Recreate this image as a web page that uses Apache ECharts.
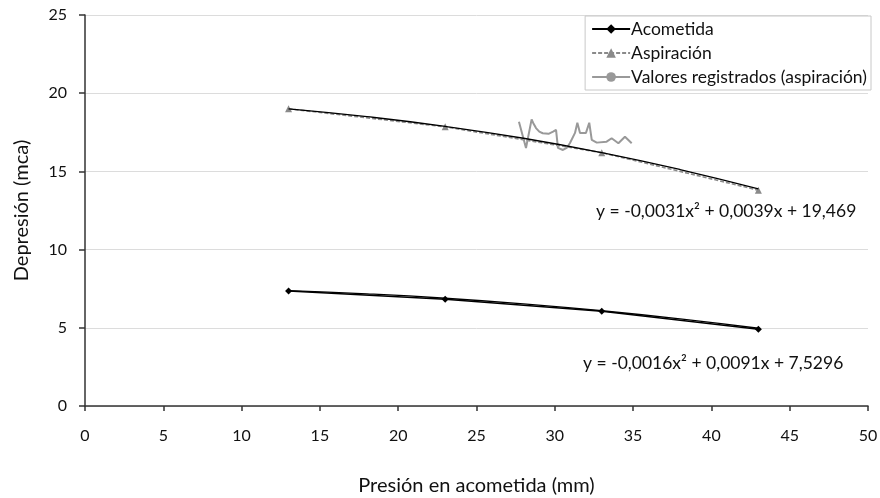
<!DOCTYPE html>
<html><head><meta charset="utf-8">
<script src="https://cdn.jsdelivr.net/npm/echarts@6/dist/echarts.min.js"></script>
<style>html,body{margin:0;padding:0;background:#fff}#c{width:880px;height:498px}</style>
</head><body><div id="c"></div>
<script>
const xPoints = [13, 23, 33, 43];
const acometida = [7.36, 6.83, 6.06, 4.90];
const aspiracion = [19.0, 17.85, 16.2, 13.8];
const regX = [27.71, 28.16, 28.52, 28.62, 28.80, 29.01, 29.23, 29.6, 29.89, 30.08, 30.20, 30.52, 30.76, 30.97, 31.29, 31.44, 31.61, 31.99, 32.20, 32.36, 32.68, 33.31, 33.63, 34.06, 34.48, 34.91];
const regY = [18.18, 16.50, 18.33, 18.1, 17.77, 17.54, 17.44, 17.4, 17.54, 17.65, 16.50, 16.37, 16.50, 16.82, 17.46, 18.11, 17.46, 17.46, 18.11, 17.01, 16.84, 16.90, 17.12, 16.80, 17.22, 16.80];
const trendX = [13, 18, 23, 28, 33, 38, 43];
const trendAsp = [19.0, 18.5, 17.88, 17.12, 16.2, 15.12, 13.88];
const trendAco = [7.38, 7.17, 6.89, 6.53, 6.09, 5.57, 4.97];
const eqAsp = 'y = -0,0031x² + 0,0039x + 19,469';
const eqAco = 'y = -0,0016x² + 0,0091x + 7,5296';
const xName = 'Presión en acometida (mm)';
const yName = 'Depresión (mca)';

const zip = (a, b) => a.map((v, i) => [v, b[i]]);
const FONT = 'Lato';
const chart = echarts.init(document.getElementById('c'), null, {renderer: 'canvas'});
chart.setOption({
  backgroundColor: '#fff',
  animation: false,
  textStyle: {fontFamily: FONT},
  grid: {left: 85, right: 12, top: 15, bottom: 92, containLabel: false, outerBoundsMode: 'none'},
  legend: {
    orient: 'vertical', right: 9, top: 16,
    data: ['Acometida', 'Aspiración', 'Valores registrados (aspiración)'],
    borderColor: '#c8c8c8', borderWidth: 1, backgroundColor: '#fff',
    padding: [4, 4, 4, 6], itemGap: 6, itemWidth: 38, itemHeight: 12,
    textStyle: {fontFamily: FONT, fontSize: 17.5, color: '#111', padding: [0, 0, 0, -4]}
  },
  xAxis: {
    type: 'value', min: 0, max: 50, interval: 5,
    name: xName, nameLocation: 'middle', nameGap: 70,
    nameTextStyle: {fontFamily: FONT, fontSize: 20, color: '#111'},
    axisLine: {show: true, lineStyle: {color: '#333', width: 1.5}},
    axisTick: {show: true, length: 5, lineStyle: {color: '#333', width: 1.5}},
    axisLabel: {fontFamily: FONT, fontSize: 16, color: '#111', margin: 22},
    splitLine: {show: false}
  },
  yAxis: {
    type: 'value', min: 0, max: 25, interval: 5,
    name: yName, nameLocation: 'middle', nameGap: 53, nameRotate: 90,
    nameTextStyle: {fontFamily: FONT, fontSize: 20, color: '#111'},
    axisLine: {show: true, onZero: false, lineStyle: {color: '#333', width: 1.5}},
    axisTick: {show: true, length: 6, lineStyle: {color: '#333', width: 1.5}},
    axisLabel: {fontFamily: FONT, fontSize: 16, color: '#111', margin: 18},
    splitLine: {show: true, lineStyle: {color: '#dcdcdc', width: 1}}
  },
  series: [
    {name: 'Acometida', type: 'line', data: zip(xPoints, acometida),
     symbol: 'diamond', symbolSize: 7, lineStyle: {color: '#000', width: 1.5},
     itemStyle: {color: '#000'}, z: 3},
    {name: 'Aspiración', type: 'line', data: zip(xPoints, aspiracion),
     symbol: 'triangle', symbolSize: 7, lineStyle: {color: '#8a8a8a', width: 1.6, type: [4, 2]},
     itemStyle: {color: '#8a8a8a'}, z: 2},
    {name: 'Valores registrados (aspiración)', type: 'line', data: zip(regX, regY),
     symbol: 'circle', symbolSize: 3, showSymbol: false, lineStyle: {color: '#999', width: 2},
     itemStyle: {color: '#999'}, z: 2},
    {name: 'trendAsp', type: 'line', data: zip(trendX, trendAsp), smooth: true,
     showSymbol: false, silent: true, lineStyle: {color: '#000', width: 1.3}, z: 4},
    {name: 'trendAco', type: 'line', data: zip(trendX, trendAco), smooth: true,
     showSymbol: false, silent: true, lineStyle: {color: '#000', width: 1.3}, z: 4}
  ],
  graphic: [
    {type: 'text', left: 596, top: 202, style: {text: eqAsp, fontFamily: FONT, fontSize: 17.5, fill: '#111'}},
    {type: 'text', left: 583, top: 354, style: {text: eqAco, fontFamily: FONT, fontSize: 17.5, fill: '#111'}}
  ]
});
</script></body></html>
